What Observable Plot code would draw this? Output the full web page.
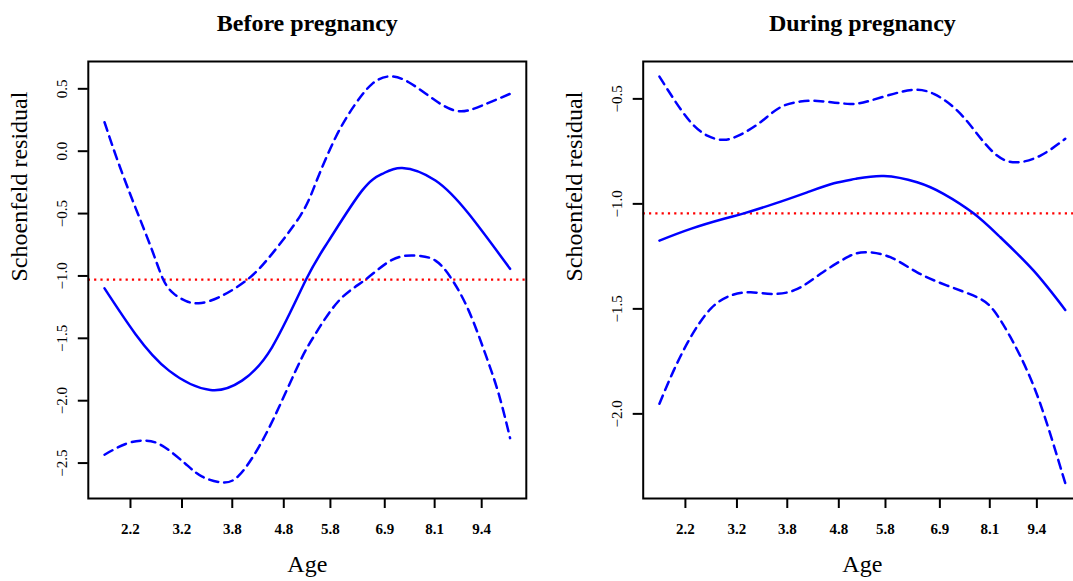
<!DOCTYPE html>
<html>
<head>
<meta charset="utf-8">
<script src="https://cdn.jsdelivr.net/npm/d3@7"></script>
<script src="https://cdn.jsdelivr.net/npm/@observablehq/plot@0.6"></script>
<style>
  html, body { margin: 0; padding: 0; background: #fff; overflow: hidden; width: 1073px; height: 581px; }
  #wrap { position: relative; width: 1073px; height: 581px; overflow: hidden; }
  #left, #right { position: absolute; top: 0; }
  #left { left: 0; width: 540px; }
  #right { left: 540px; width: 560px; }
  #wrap svg { max-width: none !important; display: block; }
</style>
</head>
<body>
<div id="wrap"><div id="left"></div><div id="right"></div></div>
<script>
// Transformed-time axis (0 = first event, 1 = last event) and its Age tick labels
const ageTickPos = [0.064, 0.191, 0.315, 0.442, 0.557, 0.691, 0.814, 0.930];
const ageTickLabels = ["2.2", "3.2", "3.8", "4.8", "5.8", "6.9", "8.1", "9.4"];

// Before pregnancy: [transformed time, Schoenfeld residual]
const beforeFit = [[0, -1.10], [0.076, -1.465], [0.159, -1.759], [0.261, -1.914], [0.339, -1.839],
  [0.413, -1.572], [0.497, -1.029], [0.553, -0.717], [0.635, -0.316], [0.685, -0.182],
  [0.734, -0.134], [0.816, -0.235], [0.898, -0.502], [1.0, -0.943]];
const beforeUpper = [[0, 0.232], [0.035, -0.10], [0.076, -0.45], [0.118, -0.80], [0.145, -1.03],
  [0.170, -1.14], [0.200, -1.20], [0.232, -1.219], [0.282, -1.171], [0.352, -1.03],
  [0.413, -0.823], [0.483, -0.516], [0.520, -0.262], [0.570, 0.112], [0.619, 0.380],
  [0.660, 0.540], [0.701, 0.599], [0.750, 0.553], [0.816, 0.406], [0.874, 0.320],
  [0.931, 0.366], [1.0, 0.460]];
const beforeLower = [[0, -2.433], [0.052, -2.347], [0.097, -2.320], [0.142, -2.360], [0.200, -2.507],
  [0.241, -2.609], [0.290, -2.655], [0.331, -2.601], [0.380, -2.374], [0.430, -2.053],
  [0.483, -1.679], [0.520, -1.465], [0.578, -1.198], [0.643, -1.03], [0.709, -0.871],
  [0.767, -0.837], [0.816, -0.877], [0.857, -1.03], [0.898, -1.278], [0.939, -1.625],
  [0.972, -1.946], [1.0, -2.30]];
const beforeRef = -1.029;
const beforeYTicks = [0.5, 0.0, -0.5, -1.0, -1.5, -2.0, -2.5];

// During pregnancy
const duringFit = [[0, -1.175], [0.077, -1.119], [0.159, -1.071], [0.208, -1.045], [0.282, -1.000],
  [0.364, -0.945], [0.430, -0.902], [0.483, -0.881], [0.553, -0.867], [0.635, -0.897],
  [0.700, -0.952], [0.774, -1.045], [0.840, -1.159], [0.922, -1.318], [1.0, -1.505]];
const duringUpper = [[0, -0.394], [0.035, -0.500], [0.077, -0.611], [0.118, -0.675], [0.159, -0.695],
  [0.200, -0.670], [0.249, -0.611], [0.298, -0.540], [0.347, -0.513], [0.397, -0.511],
  [0.470, -0.524], [0.520, -0.508], [0.577, -0.476], [0.627, -0.457], [0.676, -0.476],
  [0.734, -0.556], [0.783, -0.667], [0.832, -0.770], [0.881, -0.802], [0.939, -0.770],
  [1.0, -0.690]];
const duringLower = [[0, -1.952], [0.035, -1.794], [0.077, -1.635], [0.126, -1.500], [0.175, -1.437],
  [0.225, -1.421], [0.282, -1.429], [0.340, -1.405], [0.397, -1.333], [0.463, -1.254],
  [0.508, -1.230], [0.569, -1.254], [0.635, -1.326], [0.709, -1.389], [0.783, -1.445],
  [0.824, -1.508], [0.865, -1.635], [0.906, -1.794], [0.947, -2.000], [1.0, -2.33]];
const duringRef = -1.045;
const duringYTicks = [-0.5, -1.0, -1.5, -2.0];

const FONT = "'Liberation Serif', 'Times New Roman', Times, serif";
const fmtY = d => (d < 0 ? "\u2212" : "") + Math.abs(d).toFixed(1);

function panel({fit, upper, lower, ref, yDomain, yTicks, title, width, marginLeft, marginRight}) {
  const X = d => d[0], Y = d => d[1];
  return Plot.plot({
    width, height: 581,
    marginTop: 61, marginBottom: 83, marginLeft, marginRight,
    style: {fontFamily: FONT, background: "white", color: "black", overflow: "visible", maxWidth: "none"},
    x: {domain: [-0.04, 1.04]},
    y: {domain: yDomain},
    marks: [
      Plot.ruleY([ref], {stroke: "#ff0000", strokeWidth: 2.2, strokeDasharray: "2.2,4.1"}),
      Plot.line(upper, {x: X, y: Y, stroke: "#0000ff", strokeWidth: 2.5, strokeDasharray: "9,6", curve: "natural"}),
      Plot.line(lower, {x: X, y: Y, stroke: "#0000ff", strokeWidth: 2.5, strokeDasharray: "9,6", curve: "natural"}),
      Plot.line(fit, {x: X, y: Y, stroke: "#0000ff", strokeWidth: 2.5, curve: "natural"}),
      Plot.frame({stroke: "black", strokeWidth: 2}),
      Plot.axisX({ticks: ageTickPos, tickFormat: d => ageTickLabels[ageTickPos.indexOf(d)],
        tickSize: 10, tickPadding: 14.5, fontSize: 15, fontWeight: "bold", strokeWidth: 2, label: null}),
      Plot.axisY({ticks: yTicks, tickFormat: () => "", tickSize: 10, strokeWidth: 2, label: null}),
      Plot.text(yTicks, {y: d => d, frameAnchor: "left", dx: -26.5, rotate: -90, text: fmtY,
        fontSize: 15, textAnchor: "middle", lineAnchor: "middle"}),
      Plot.text([title], {frameAnchor: "top", dy: -31, lineAnchor: "bottom", text: d => d,
        fontSize: 24, fontWeight: "bold"}),
      Plot.text(["Age"], {frameAnchor: "bottom", dy: 73.7, lineAnchor: "bottom", text: d => d, fontSize: 24}),
      Plot.text(["Schoenfeld residual"], {frameAnchor: "left", dx: -68.5, dy: 1.5, rotate: -90,
        text: d => d, fontSize: 24, lineAnchor: "middle"})
    ]
  });
}

document.getElementById("left").appendChild(panel({
  fit: beforeFit, upper: beforeUpper, lower: beforeLower, ref: beforeRef,
  yDomain: [-2.784, 0.719], yTicks: beforeYTicks, title: "Before pregnancy",
  width: 540, marginLeft: 87.8, marginRight: 14.2
}));
document.getElementById("right").appendChild(panel({
  fit: duringFit, upper: duringUpper, lower: duringLower, ref: duringRef,
  yDomain: [-2.403, -0.322], yTicks: duringYTicks, title: "During pregnancy",
  width: 560, marginLeft: 102.7, marginRight: 19
}));
</script>
</body>
</html>
